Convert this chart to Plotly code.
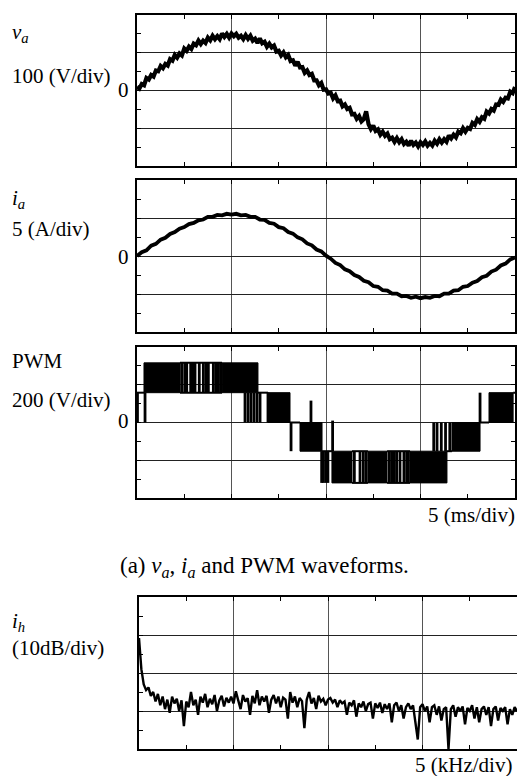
import plotly.graph_objects as go

# ---------------- data (in screen divisions) ----------------
# v_a: 4 div x 5 ms/div, sampled every 0.025 div, 100 V/div
t_va = [i * 0.025 for i in range(161)]
va_div = [0.10, 0.05, 0.17, 0.14, 0.33, 0.29, 0.41, 0.37, 0.53, 0.51,
          0.65, 0.59, 0.70, 0.66, 0.83, 0.79, 0.94, 0.87, 0.98, 0.93,
          1.11, 1.05, 1.16, 1.10, 1.24, 1.20, 1.32, 1.23, 1.32, 1.26,
          1.40, 1.33, 1.45, 1.36, 1.44, 1.36, 1.51, 1.42, 1.50, 1.40,
          1.51, 1.44, 1.50, 1.40, 1.45, 1.36, 1.47, 1.37, 1.45, 1.32,
          1.37, 1.26, 1.38, 1.25, 1.29, 1.16, 1.24, 1.14, 1.19, 1.03,
          1.05, 0.93, 1.01, 0.88, 0.94, 0.78, 0.80, 0.66, 0.76, 0.61,
          0.62, 0.47, 0.53, 0.41, 0.44, 0.27, 0.27, 0.14, 0.20, 0.02,
          0.03,
          -0.08, -0.06, -0.21, -0.13, -0.28, -0.27, -0.42, -0.37, -0.49, -0.46,
          -0.63, -0.62, -0.75, -0.68, -0.82, -0.76, -0.55, -0.89, -1.02, -0.93,
          -1.07, -1.03, -1.17, -1.09, -1.20, -1.14, -1.29, -1.25, -1.36, -1.26,
          -1.37, -1.29, -1.42, -1.36, -1.46, -1.33, -1.44, -1.38, -1.48, -1.37,
          -1.44, -1.35, -1.46, -1.39, -1.46, -1.33, -1.41, -1.29, -1.38, -1.29,
          -1.36, -1.19, -1.27, -1.17, -1.24, -1.09, -1.13, -1.00, -1.09, -0.99,
          -1.02, -0.86, -0.91, -0.76, -0.83, -0.71, -0.75, -0.56, -0.61, -0.49,
          -0.53, -0.37, -0.38, -0.24, -0.30, -0.19, -0.21, -0.03, -0.07, 0.09]

# i_a: sampled every 0.05 div, 5 A/div
t_ia = [i * 0.05 for i in range(81)]
ia_div = [0.00, 0.10, 0.15, 0.27, 0.32, 0.43, 0.48, 0.58, 0.63, 0.72, 0.76, 0.84, 0.87, 0.94, 0.96, 1.03, 1.03, 1.08, 1.07, 1.11, 1.09,
          1.11, 1.07, 1.08, 1.03, 1.03, 0.96, 0.95, 0.87, 0.85, 0.76, 0.73, 0.63, 0.59, 0.49, 0.44, 0.33, 0.28, 0.17, 0.12, 0.01,
          -0.07, -0.18, -0.24, -0.35, -0.40, -0.50, -0.55, -0.65, -0.69, -0.79, -0.81, -0.90, -0.91, -0.99, -0.99, -1.06, -1.05, -1.10, -1.07, -1.11,
          -1.08, -1.10, -1.05, -1.06, -0.99, -0.99, -0.91, -0.90, -0.81, -0.79, -0.70, -0.66, -0.56, -0.52, -0.41, -0.36, -0.25, -0.20, -0.09, -0.04]

# PWM levels (div, 200 V/div)
P2, P1, Z, N1, N2 = 1.58, 0.79, 0.0, -0.76, -1.60
# dense switching blocks
pwm_blk_start = [0.074, 0.90, 1.386, 1.725, 2.063, 2.444, 2.889, 3.333, 3.725]
pwm_blk_end = [0.455, 1.28, 1.619, 1.958, 2.275, 2.646, 3.280, 3.630, 3.980]
pwm_blk_low = [P1, P1, Z, N1, N2, N2, N2, N1, Z]
pwm_blk_high = [P2, P2, P1, Z, N1, N1, N1, Z, P1]
# steady level segments
pwm_seg_start = [0.0, 0.455, 0.455, 1.28, 1.619, 1.958, 2.275, 2.275, 2.646, 2.646, 3.28, 3.63, 3.98]
pwm_seg_end = [0.074, 0.90, 0.90, 1.386, 1.725, 2.063, 2.444, 2.444, 2.889, 2.889, 3.333, 3.725, 4.0]
pwm_seg_level = [P1, P2, P1, P1, Z, N1, N1, N2, N1, N2, N1, Z, P1]
# isolated pulses
pwm_pulse_t = [0.005, 0.085,
               0.473, 0.505, 0.526, 0.568, 0.595, 0.614, 0.659, 0.702, 0.730, 0.755, 0.808, 0.835, 0.861, 0.885,
               1.143, 1.175, 1.206, 1.238, 1.270, 1.302, 1.386,
               1.63, 1.841,
               1.954, 1.972, 1.997, 2.02, 2.07,
               2.30, 2.36, 2.395, 2.425,
               2.670, 2.695, 2.723, 2.748, 2.783, 2.825, 2.854, 2.872,
               3.14, 3.175, 3.22, 3.265, 3.31, 3.63]
pwm_pulse_lo = [Z, Z,
                P1, P1, P1, P1, P1, P1, P1, P1, P1, P1, P1, P1, P1, P1,
                Z, Z, Z, Z, Z, Z, Z,
                N1, Z,
                N2, N2, N2, N2, N1,
                N2, N2, N2, N2,
                N2, N2, N2, N2, N2, N2, N2, N2,
                N1, N1, N1, N1, N1, Z]
pwm_pulse_hi = [P1, P1,
                P2, P2, P2, P2, P2, P2, P2, P2, P2, P2, P2, P2, P2, P2,
                P1, P1, P1, P1, P1, P1, P1,
                Z, 0.58,
                N1, N1, N1, N1, 0.05,
                N1, N1, N1, N1,
                N1, N1, N1, N1, N1, N1, N1, N1,
                Z, Z, Z, Z, Z, P1]

# spectrum: 4 div x 5 kHz/div, 10 dB/div
f_div = [i * 0.025 for i in range(161)]
ih_div = [0.92, 0.10, -0.30, -0.45, -0.38, -0.60, -0.50, -0.75, -0.55, -0.85,
          -0.62, -0.95, -0.70, -1.05, -0.62, -0.80, -0.68, -1.00, -0.72, -1.40,
          -0.75, -0.90, -0.50, -0.85, -0.70, -1.10, -0.62, -0.78, -0.55, -0.90,
          -0.68, -0.82, -0.58, -1.00, -0.72, -0.60, -0.88, -0.65, -0.78, -0.62,
          -0.80, -0.48, -0.72, -0.95, -0.58, -0.75, -0.66, -1.10, -0.60, -0.80,
          -0.45, -0.85, -0.62, -0.75, -0.60, -1.05, -0.70, -0.58, -0.80, -0.62,
          -0.90, -0.65, -0.70, -1.20, -0.50, -0.78, -0.62, -0.90, -0.66, -0.74,
          -1.45, -0.70, -0.50, -0.80, -0.66, -0.95, -0.60, -0.75, -0.68, -0.85,
          -0.70, -0.66, -0.78, -0.70, -0.90, -0.72, -0.80, -0.75, -1.10, -0.78,
          -0.85, -0.72, -1.15, -0.80, -0.90, -0.75, -1.00, -0.82, -0.78, -1.20,
          -0.80, -0.92, -0.78, -1.05, -0.82, -0.95, -0.80, -1.30, -0.85, -0.78,
          -1.00, -0.85, -1.20, -0.90, -0.80, -0.95, -0.85, -1.25, -1.75, -0.90,
          -0.82, -1.00, -0.88, -1.30, -0.90, -0.85, -1.10, -0.88, -1.25, -0.95,
          -0.90, -2.00, -0.95, -0.85, -1.15, -0.90, -1.00, -0.88, -1.35, -0.92,
          -1.00, -0.85, -1.20, -0.90, -1.30, -0.95, -0.88, -1.10, -0.90, -1.40,
          -0.95, -0.88, -1.25, -0.92, -1.00, -0.90, -1.35, -0.95, -1.10, -0.90,
          -1.00]

# ---------------- figure ----------------
W, H = 517, 776
FONT = "Liberation Serif"
boxes = [(137, 515, 15, 166), (137, 515, 180, 332), (137, 515, 347, 498), (139, 517, 597, 749)]

fig = go.Figure()

def add(trace, n):
    s = '' if n == 1 else str(n)
    trace.update(xaxis='x' + s, yaxis='y' + s, showlegend=False, hoverinfo='skip')
    fig.add_trace(trace)

add(go.Scatter(x=t_va, y=va_div, mode='lines', line=dict(color='black', width=4.2)), 1)
add(go.Scatter(x=t_ia, y=ia_div, mode='lines', line=dict(color='black', width=3.8)), 2)

# PWM blocks
bx, by = [], []
for s, e, lo, hi in zip(pwm_blk_start, pwm_blk_end, pwm_blk_low, pwm_blk_high):
    bx += [s, e, e, s, s, None]
    by += [lo, lo, hi, hi, lo, None]
add(go.Scatter(x=bx, y=by, mode='lines', fill='toself', fillcolor='black',
               line=dict(color='black', width=1)), 3)
sx, sy = [], []
for s, e, lv in zip(pwm_seg_start, pwm_seg_end, pwm_seg_level):
    sx += [s, e, None]
    sy += [lv, lv, None]
add(go.Scatter(x=sx, y=sy, mode='lines', line=dict(color='black', width=2)), 3)
px_, py_ = [], []
for t, lo, hi in zip(pwm_pulse_t, pwm_pulse_lo, pwm_pulse_hi):
    px_ += [t, t, None]
    py_ += [lo, hi, None]
add(go.Scatter(x=px_, y=py_, mode='lines', line=dict(color='black', width=2.8)), 3)

add(go.Scatter(x=f_div, y=ih_div, mode='lines', line=dict(color='black', width=2.4)), 4)

layout = dict(width=W, height=H, autosize=False, margin=dict(l=0, r=0, t=0, b=0),
              paper_bgcolor='white', plot_bgcolor='white', showlegend=False)
for i, (x0, x1, y0, y1) in enumerate(boxes, start=1):
    s = '' if i == 1 else str(i)
    last = (i == 4)
    tickstyle = dict(ticks='inside', ticklen=4, tickwidth=1, tickcolor='black', showticklabels=False,
                     showline=True, linecolor='black', zeroline=False)
    layout['xaxis' + s] = dict(domain=[x0 / W, x1 / W], anchor='y' + s, range=[0, 4], dtick=1, tick0=0,
                               showgrid=True, gridcolor='#555', gridwidth=1, linewidth=2,
                               mirror='ticks',
                               minor=dict(dtick=0.5, tick0=0, ticks='inside', ticklen=4, tickcolor='black', showgrid=False),
                               fixedrange=True, **tickstyle)
    layout['yaxis' + s] = dict(domain=[1 - y1 / H, 1 - y0 / H], anchor='x' + s, range=[-2, 2], dtick=1, tick0=-2,
                               showgrid=True, gridcolor='#222', gridwidth=1, linewidth=1.6,
                               mirror=False if last else 'ticks',
                               minor=dict(dtick=0.5, tick0=0, ticks='inside', ticklen=4, tickcolor='black', showgrid=False),
                               fixedrange=True, **tickstyle)

def ann(text, xpx, ypx, xanchor='left', size=21):
    return dict(text=text, x=xpx / W, y=1 - ypx / H, xref='paper', yref='paper', xanchor=xanchor,
                yanchor='middle', showarrow=False, borderpad=0,
                font=dict(family=FONT, size=size, color='black'))

layout['annotations'] = [
    ann('<i>v<sub>a</sub></i>', 11, 33),
    ann('100 (V/div)', 11, 76),
    ann('0', 130, 90, 'right'),
    ann('<i>i<sub>a</sub></i>', 11, 199),
    ann('5 (A/div)', 11, 229),
    ann('0', 130, 257, 'right'),
    ann('PWM', 11, 361),
    ann('200 (V/div)', 11, 400),
    ann('0', 130, 421, 'right'),
    ann('5 (ms/div)', 516, 515, 'right'),
    ann('(a) <i>v<sub>a</sub></i>, <i>i<sub>a</sub></i> and PWM waveforms.', 264, 567, 'center', 23),
    ann('<i>i<sub>h</sub></i>', 11, 622),
    ann('(10dB/div)', 11, 648),
    ann('5 (kHz/div)', 513, 765, 'right'),
]
fig.update_layout(**layout)
fig.write_html('out.html')
